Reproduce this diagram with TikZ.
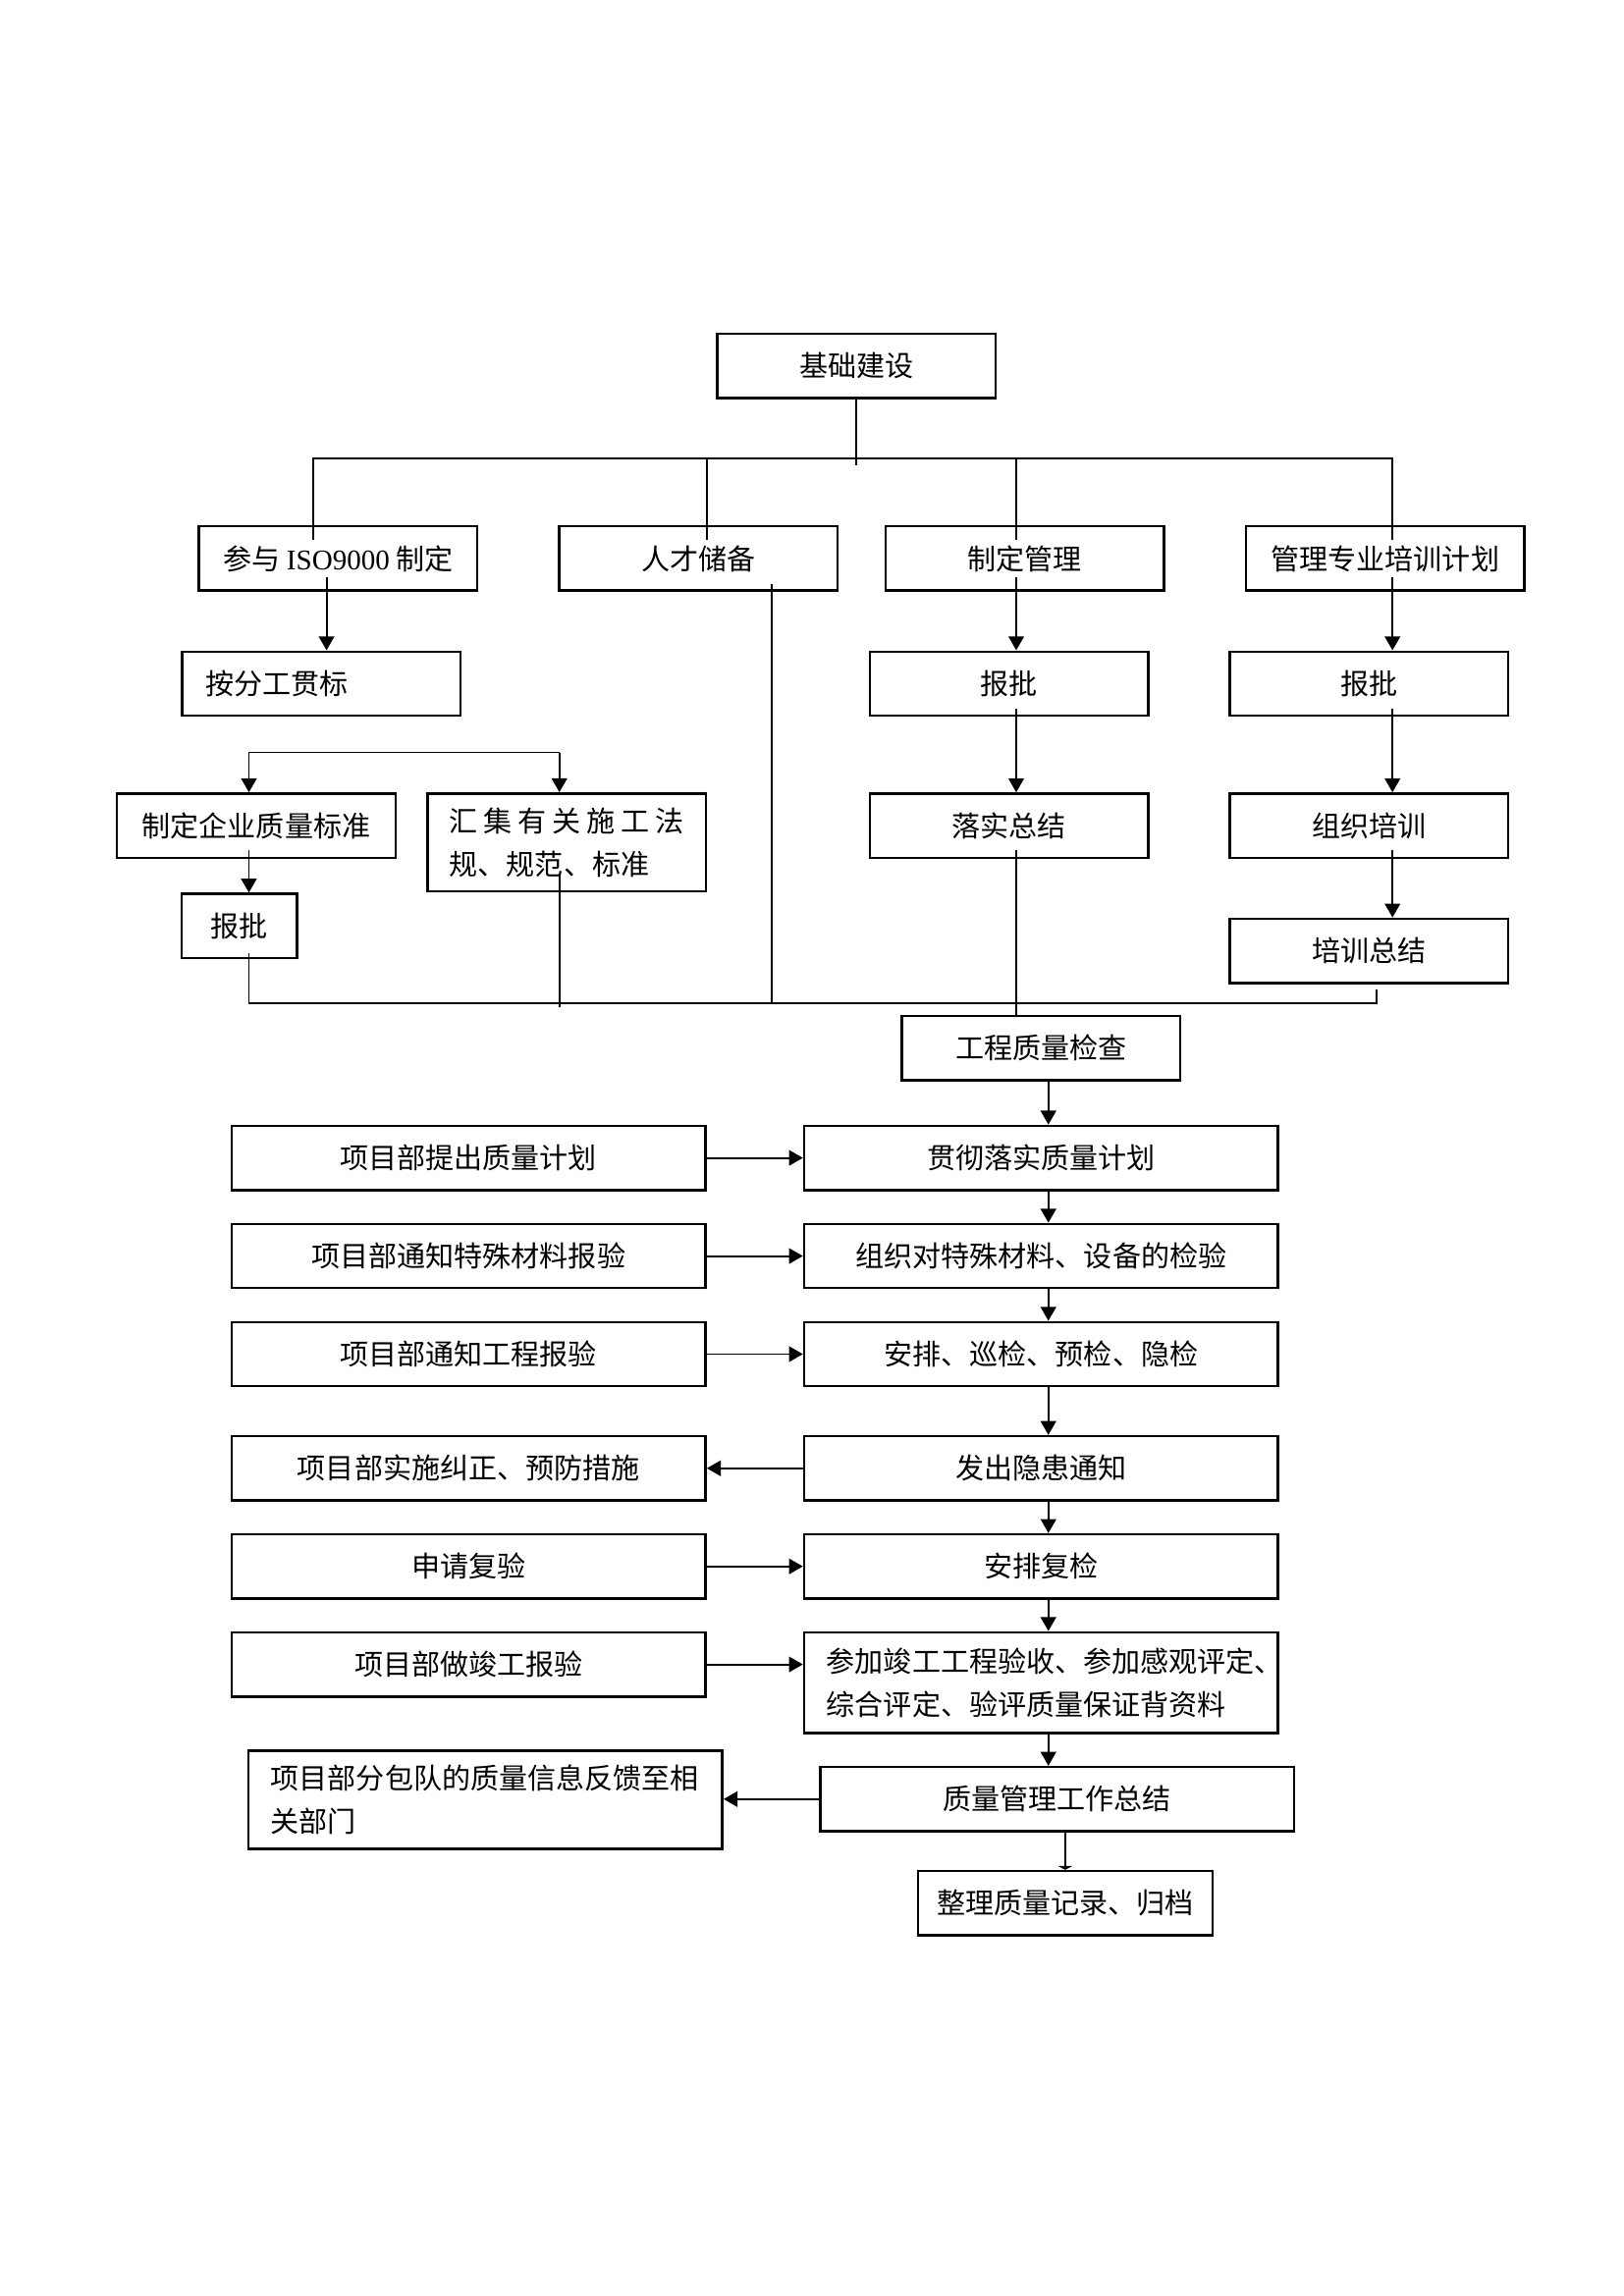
\documentclass[tikz,border=0pt]{standalone}
\usepackage{fontspec}
\setmainfont{Noto Sans CJK SC}
\newfontfamily\latin{Liberation Serif}
\usetikzlibrary{arrows.meta}

\tikzset{
  box/.style={draw, line width=0.9pt, minimum width=3.6cm, minimum height=0.83cm,
    inner sep=2pt, font=\fontsize{10.5}{16}\selectfont},
  widebox/.style={box, minimum width=6.13cm},
  link/.style={line width=0.7pt},
  arr/.style={link, -{Triangle[length=1.8mm,width=2mm]}},
  stub/.style={link, -{Triangle[length=0.5mm,width=1.9mm]}},
}

\begin{document}
\begin{tikzpicture}
  \useasboundingbox (0,0) rectangle (21,-29.7);

  % top part
  \node[box] (jc) at (11.078,-4.734) {基础建设};
  \node[box] (iso) at (4.374,-7.224) {参与 {\latin ISO9000} 制定};
  \node[box] (rc) at (9.033,-7.224) {人才储备};
  \node[box] (zdgl) at (13.255,-7.224) {制定管理};
  \node[box] (pxjh) at (17.914,-7.224) {管理专业培训计划};

  \node[box, align=left, text width=3.0cm, inner xsep=0.3cm] (fg) at (4.156,-8.843) {按分工贯标};
  \node[box] (bp1) at (13.047,-8.843) {报批};
  \node[box] (bp2) at (17.705,-8.843) {报批};

  \node[box] (qybz) at (3.314,-10.680) {制定企业质量标准};
  \node[box, minimum height=1.269cm, align=left, text width=3.03cm, inner xsep=0.28cm] (hj) at (7.328,-10.898)
    {\makebox[3.03cm][s]{汇\hfil 集\hfil 有\hfil 关\hfil 施\hfil 工\hfil 法}\\规、规范、标准};
  \node[box] (lszj) at (13.047,-10.680) {落实总结};
  \node[box] (zzpx) at (17.705,-10.680) {组织培训};
  \node[box, minimum width=1.496cm] (bp3) at (3.096,-11.977) {报批};
  \node[box] (pxzj) at (17.705,-12.299) {培训总结};
  \node[box] (gcjc) at (13.464,-13.558) {工程质量检查};

  % right column
  \node[widebox] (r1) at (13.464,-14.978) {贯彻落实质量计划};
  \node[widebox] (r2) at (13.464,-16.247) {组织对特殊材料、设备的检验};
  \node[widebox] (r3) at (13.464,-17.516) {安排、巡检、预检、隐检};
  \node[widebox] (r4) at (13.464,-18.993) {发出隐患通知};
  \node[widebox] (r5) at (13.464,-20.262) {安排复检};
  \node[widebox, minimum height=1.307cm, align=left, text width=5.55cm, inner xsep=0.29cm] (r6) at (13.464,-21.767)
    {参加竣工工程验收、参加感观评定、\\综合评定、验评质量保证背资料};
  \node[widebox] (zj) at (13.672,-23.272) {质量管理工作总结};
  \node[box, minimum width=3.806cm] (zl) at (13.776,-24.617) {整理质量记录、归档};

  % left column
  \node[widebox] (l1) at (6.060,-14.978) {项目部提出质量计划};
  \node[widebox] (l2) at (6.060,-16.247) {项目部通知特殊材料报验};
  \node[widebox] (l3) at (6.060,-17.516) {项目部通知工程报验};
  \node[widebox] (l4) at (6.060,-18.993) {项目部实施纠正、预防措施};
  \node[widebox] (l5) at (6.060,-20.262) {申请复验};
  \node[widebox] (l6) at (6.060,-21.530) {项目部做竣工报验};
  \node[widebox, minimum height=1.269cm, align=left, text width=5.55cm, inner xsep=0.28cm] (fk) at (6.277,-23.282)
    {项目部分包队的质量信息反馈至相\\关部门};

  \coordinate (bus) at (0,-5.927);
  \coordinate (br) at (0,-9.733);
  \coordinate (cb) at (0,-12.971);

  % distribution bus
  \draw[link] (jc.south) -- ([yshift=-0.095cm]jc.south |- bus);
  \draw[link] ([xshift=-0.322cm,yshift=-0.19cm]iso.north) |- ([xshift=0.094cm]pxjh.north |- bus)
    -- ([xshift=0.094cm,yshift=-0.19cm]pxjh.north);
  \draw[link] ([xshift=0.113cm,yshift=-0.19cm]rc.north) -- ([xshift=0.113cm]rc.north |- bus);
  \draw[link] ([xshift=-0.113cm,yshift=-0.19cm]zdgl.north) -- ([xshift=-0.113cm]zdgl.north |- bus);

  \draw[arr] ([xshift=-0.151cm,yshift=0.19cm]iso.south) -- ([xshift=-0.151cm]iso.south |- fg.north);
  \draw[arr] ([xshift=-0.113cm,yshift=0.19cm]zdgl.south) -- ([xshift=-0.113cm]zdgl.south |- bp1.north);
  \draw[arr] ([xshift=0.094cm,yshift=0.19cm]pxjh.south) -- ([xshift=0.094cm]pxjh.south |- bp2.north);
  \draw[arr] ([xshift=0.095cm,yshift=0.11cm]bp1.south) -- ([xshift=0.095cm]bp1.south |- lszj.north);
  \draw[arr] ([xshift=0.303cm,yshift=0.11cm]bp2.south) -- ([xshift=0.303cm]bp2.south |- zzpx.north);
  \draw[arr] ([xshift=0.303cm,yshift=0.11cm]zzpx.south) -- ([xshift=0.303cm]zzpx.south |- pxzj.north);

  \draw[arr] ([xshift=-0.094cm]hj.north |- br) -| ([xshift=-0.095cm]qybz.north);
  \draw[arr] ([xshift=-0.094cm]hj.north |- br) -- ([xshift=-0.094cm]hj.north);
  \draw[arr] ([xshift=-0.095cm,yshift=0.11cm]qybz.south) -- ([xshift=-0.095cm]qybz.south |- bp3.north);

  % collecting bus
  \draw[link] ([xshift=0.123cm,yshift=0.08cm]bp3.south) |- ([xshift=0.095cm]pxzj.south |- cb)
    -- ([xshift=0.095cm,yshift=-0.066cm]pxzj.south);
  \draw[link] ([xshift=-0.094cm,yshift=0.23cm]hj.south) -- ([xshift=-0.094cm,yshift=-0.057cm]hj.south |- cb);
  \draw[link] ([xshift=0.946cm,yshift=0.1cm]rc.south) -- ([xshift=0.946cm]rc.south |- cb);
  \draw[link] ([xshift=0.095cm,yshift=0.11cm]lszj.south) -- ([xshift=0.095cm]lszj.south |- gcjc.north);

  % main flow
  \foreach \a/\b in {gcjc/r1,r1/r2,r2/r3,r3/r4,r4/r5,r5/r6}
    \draw[arr] ([xshift=0.094cm]\a.south) -- ([xshift=0.094cm]\b.north);
  \draw[arr] ([xshift=0.094cm]r6.south) -- ([xshift=0.094cm]r6.south |- zj.north);
  \draw[stub] (zl.north |- zj.south) -- (zl.north);

  \foreach \a/\b in {l1/r1,l2/r2,l3/r3,l5/r5,l6/r6}
    \draw[arr] (\a.east) -- (\a.east -| \b.west);
  \draw[arr] (r4.west) -- (r4.west -| l4.east);
  \draw[arr] (zj.west) -- (zj.west -| fk.east);
\end{tikzpicture}
\end{document}
